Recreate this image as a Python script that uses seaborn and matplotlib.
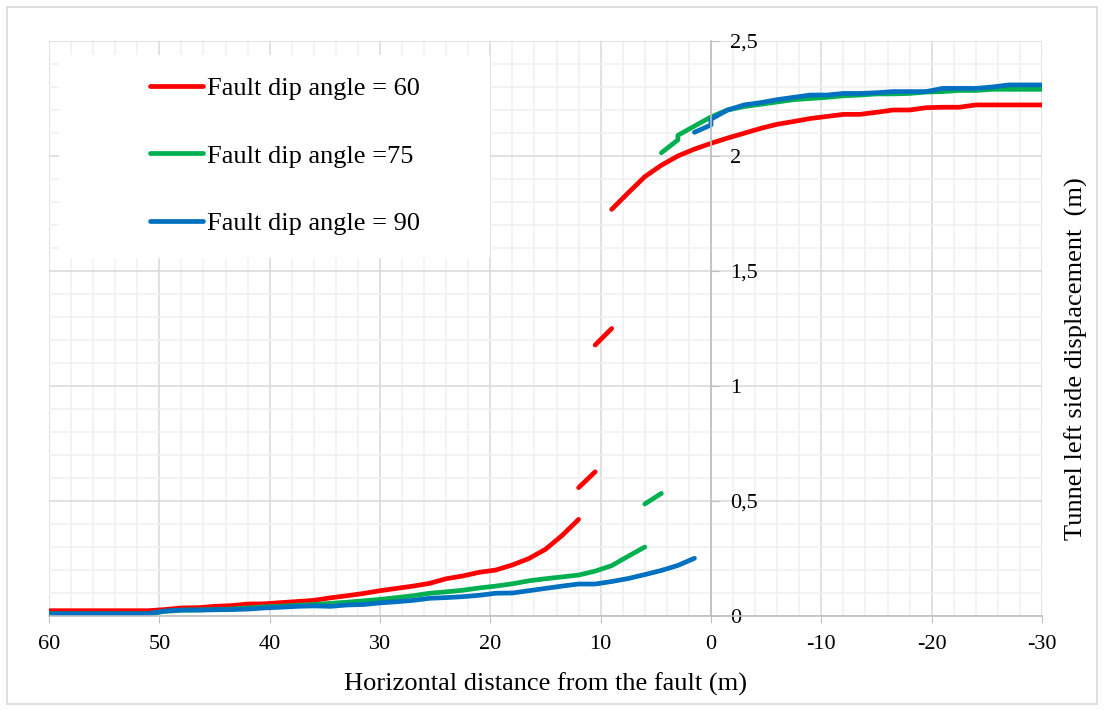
import numpy as np
import pandas as pd
import matplotlib
matplotlib.use("Agg")
import matplotlib.pyplot as plt
from matplotlib.lines import Line2D
from matplotlib.patches import Rectangle
from matplotlib.ticker import MultipleLocator, FuncFormatter
import seaborn as sns

# Series labels and colours
LABELS = ['Fault dip angle = 60', 'Fault dip angle =75', 'Fault dip angle = 90']
COLORS = ['#FF0000', '#00B050', '#0070C0']

# Fault dip angle = 60 (four separate pieces)
x60_a = [60, 58.5, 57, 55.5, 54, 52.5, 51, 49.5, 48, 46.5, 45, 43.5, 42, 40.5, 39, 37.5, 36,
         34.5, 33, 31.5, 30, 28.5, 27, 25.5, 24, 22.5, 21, 19.5, 18, 16.5, 15, 13.5, 12]
y60_a = [0.023, 0.023, 0.023, 0.023, 0.023, 0.023, 0.023, 0.028, 0.035, 0.036, 0.042, 0.045,
         0.052, 0.053, 0.058, 0.063, 0.068, 0.079, 0.088, 0.098, 0.11, 0.12, 0.13, 0.142,
         0.162, 0.174, 0.19, 0.2, 0.222, 0.25, 0.29, 0.35, 0.42]
x60_b = [12, 10.5]
y60_b = [0.558, 0.627]
x60_c = [10.5, 9]
y60_c = [1.178, 1.25]
x60_d = [9, 7.5, 6, 4.5, 3, 1.5, 0, -1.5, -3, -4.5, -6, -7.5, -9, -10.5, -12, -13.5, -15,
         -16.5, -18, -19.5, -21, -22.5, -24, -25.5, -27, -28.5, -30]
y60_d = [1.768, 1.84, 1.91, 1.96, 2.0, 2.03, 2.055, 2.078, 2.099, 2.12, 2.138, 2.15, 2.163,
         2.172, 2.181, 2.181, 2.19, 2.2, 2.2, 2.21, 2.212, 2.212, 2.222, 2.222, 2.222, 2.222,
         2.222]

# Fault dip angle = 75 (three pieces)
x75_a = [60, 58.5, 57, 55.5, 54, 52.5, 51, 49.5, 48, 46.5, 45, 43.5, 42, 40.5, 39, 37.5, 36,
         34.5, 33, 31.5, 30, 28.5, 27, 25.5, 24, 22.5, 21, 19.5, 18, 16.5, 15, 13.5, 12, 10.5,
         9, 7.5, 6]
y75_a = [0.01, 0.01, 0.01, 0.01, 0.01, 0.01, 0.01, 0.02, 0.025, 0.026, 0.028, 0.03, 0.035,
         0.04, 0.042, 0.047, 0.05, 0.055, 0.06, 0.066, 0.072, 0.08, 0.088, 0.099, 0.105, 0.112,
         0.122, 0.13, 0.14, 0.153, 0.162, 0.17, 0.178, 0.195, 0.219, 0.26, 0.3]
x75_b = [6, 4.5]
y75_b = [0.487, 0.533]
x75_c = [4.5, 3, 3, 1.5, 0, -1.5, -3, -4.5, -6, -7.5, -9, -10.5, -12, -13.5, -15, -16.5, -18,
         -19.5, -21, -22.5, -24, -25.5, -27, -28.5, -30]
y75_c = [2.014, 2.07, 2.09, 2.13, 2.17, 2.2, 2.215, 2.225, 2.235, 2.245, 2.25, 2.255, 2.262,
         2.265, 2.27, 2.27, 2.272, 2.278, 2.28, 2.285, 2.285, 2.29, 2.29, 2.29, 2.29]

# Fault dip angle = 90 (two pieces)
x90_a = [60, 58.5, 57, 55.5, 54, 52.5, 51, 49.5, 48, 46.5, 45, 43.5, 42, 40.5, 39, 37.5, 36,
         34.5, 33, 31.5, 30, 28.5, 27, 25.5, 24, 22.5, 21, 19.5, 18, 16.5, 15, 13.5, 12, 10.5,
         9, 7.5, 6, 4.5, 3, 1.5]
y90_a = [0.01, 0.01, 0.01, 0.01, 0.01, 0.01, 0.01, 0.022, 0.026, 0.026, 0.027, 0.028, 0.03,
         0.035, 0.038, 0.042, 0.044, 0.042, 0.048, 0.05, 0.057, 0.062, 0.068, 0.077, 0.08,
         0.084, 0.09, 0.099, 0.1, 0.11, 0.12, 0.13, 0.139, 0.139, 0.15, 0.163, 0.18, 0.198,
         0.22, 0.251]
x90_b = [1.5, 0, 0, -1.5, -3, -4.5, -6, -7.5, -9, -10.5, -12, -13.5, -15, -16.5, -18, -19.5,
         -21, -22.5, -24, -25.5, -27, -28.5, -30]
y90_b = [2.103, 2.135, 2.16, 2.2, 2.222, 2.232, 2.245, 2.255, 2.265, 2.265, 2.272, 2.272,
         2.275, 2.28, 2.28, 2.28, 2.294, 2.294, 2.294, 2.3, 2.309, 2.309, 2.309]

pieces = [
    (LABELS[0], [(x60_a, y60_a), (x60_b, y60_b), (x60_c, y60_c), (x60_d, y60_d)]),
    (LABELS[1], [(x75_a, y75_a), (x75_b, y75_b), (x75_c, y75_c)]),
    (LABELS[2], [(x90_a, y90_a), (x90_b, y90_b)]),
]
rows = []
for label, segs in pieces:
    for k, (xs, ys) in enumerate(segs):
        for xv, yv in zip(xs, ys):
            rows.append({'x': xv, 'y': yv, 'series': label, 'seg': k})
df = pd.DataFrame(rows)

plt.rcParams['font.family'] = ['Liberation Serif', 'DejaVu Serif']
plt.rcParams['font.size'] = 16
plt.rcParams['axes.unicode_minus'] = False

fig = plt.figure(figsize=(11.04, 7.11), dpi=100)
ax = fig.add_axes([49 / 1104, 1 - 616 / 711, 993 / 1104, 575 / 711])

sns.lineplot(data=df, x='x', y='y', hue='series', units='seg', estimator=None, sort=False,
             hue_order=LABELS, palette=dict(zip(LABELS, COLORS)), linewidth=3.4,
             legend=False, ax=ax)
for ln in ax.get_lines():
    ln.set_solid_capstyle('round')

ax.set_xlim(60, -30)
ax.set_ylim(0, 2.5)
ax.xaxis.set_major_locator(MultipleLocator(10))
ax.xaxis.set_minor_locator(MultipleLocator(2))
ax.yaxis.set_major_locator(MultipleLocator(0.5))
ax.yaxis.set_minor_locator(MultipleLocator(0.1))
ax.yaxis.set_major_formatter(FuncFormatter(lambda v, p: f"{v:g}".replace('.', ',')))

ax.set_axisbelow(True)
ax.grid(which='major', color='#d9d9d9', linewidth=1.1)
ax.grid(which='minor', color='#f0f0f0', linewidth=1.1)

# y axis sits at x = 0, ticks and labels on its right side
ax.spines['right'].set_position(('data', 0))
ax.spines['right'].set_color('#bfbfbf')
ax.spines['right'].set_linewidth(1.2)
ax.spines['bottom'].set_color('#bfbfbf')
ax.spines['bottom'].set_linewidth(1.2)
ax.spines['left'].set_visible(False)
ax.spines['top'].set_visible(False)
ax.yaxis.tick_right()
ax.tick_params(axis='y', which='major', direction='out', length=6, color='#bfbfbf', pad=8)
ax.tick_params(axis='x', which='major', direction='out', length=5, color='#bfbfbf', pad=9)
ax.tick_params(which='minor', length=0)
for t in ax.get_yticklabels():
    t.set_horizontalalignment('left')

ax.set_xlabel('Horizontal distance from the fault (m)', fontsize=19, labelpad=13)
ax.set_ylabel('')
fig.text(1076 / 1104, 1 - 359 / 711, 'Tunnel left side displacement  (m)', rotation=90,
         ha='center', va='center', fontsize=19)

# white legend area covering the grid
ax.add_patch(Rectangle((0.010, 0.623), 0.434, 0.353, transform=ax.transAxes,
                       facecolor='white', edgecolor='none', zorder=1))
handles = [Line2D([], [], color=c, linewidth=3.4, solid_capstyle='round') for c in COLORS]
ax.legend(handles, LABELS, loc='center left', bbox_to_anchor=(0.102, 0.80), frameon=False,
          borderpad=0, borderaxespad=0, handlelength=2.0, handletextpad=0.15,
          labelspacing=1.66, fontsize=19)

# outer chart border
fig.patches.append(Rectangle((7 / 1104, 7 / 711), 1 - 14 / 1104, 1 - 14 / 711,
                             transform=fig.transFigure, facecolor='none',
                             edgecolor='#d9d9d9', linewidth=1.2))

fig.savefig('out.png', dpi=100)
